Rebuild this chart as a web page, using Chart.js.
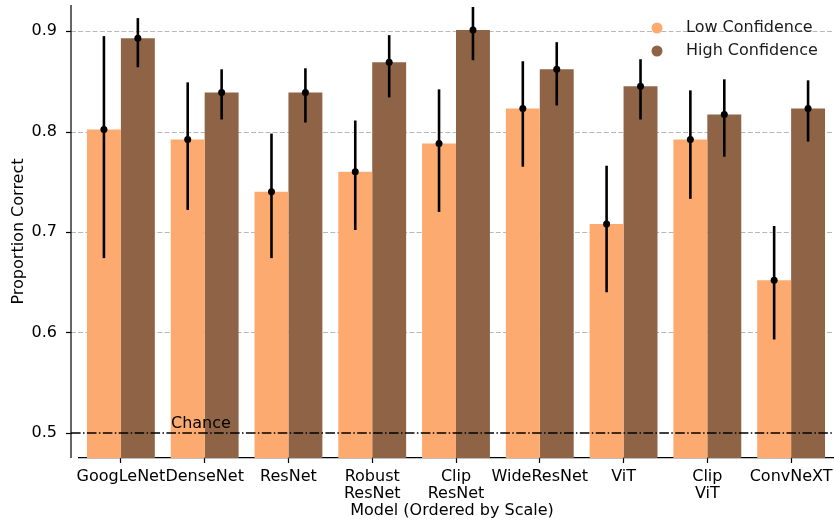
<!DOCTYPE html>
<html>
<head>
<meta charset="utf-8">
<title>Proportion Correct by Model</title>
<script src="https://cdn.jsdelivr.net/npm/chart.js@4"></script>
<style>
    html, body { margin: 0; padding: 0; background: #ffffff; }
    #chart-wrap { width: 834px; height: 525px; }
</style>
</head>
<body>
<div id="chart-wrap"><canvas id="confidence-chart" width="834" height="525"></canvas></div>
<script>
// Chart data
const models = [['GoogLeNet'], ['DenseNet'], ['ResNet'], ['Robust', 'ResNet'], ['Clip', 'ResNet'], ['WideResNet'], ['ViT'], ['Clip', 'ViT'], ['ConvNeXT']];
const lowConfidence = [0.802, 0.792, 0.740, 0.760, 0.788, 0.823, 0.708, 0.792, 0.652];
const lowLower = [0.674, 0.722, 0.674, 0.702, 0.720, 0.765, 0.640, 0.733, 0.593];
const lowUpper = [0.895, 0.849, 0.798, 0.811, 0.842, 0.870, 0.766, 0.841, 0.706];
const highConfidence = [0.893, 0.839, 0.839, 0.869, 0.901, 0.862, 0.845, 0.817, 0.823];
const highLower = [0.864, 0.812, 0.809, 0.834, 0.871, 0.826, 0.812, 0.775, 0.790];
const highUpper = [0.913, 0.862, 0.863, 0.896, 0.924, 0.889, 0.872, 0.852, 0.851];
const yTicks = [0.5, 0.6, 0.7, 0.8, 0.9];
const chanceLevel = 0.5;

const LOW_COLOR = '#fdaa71';
const HIGH_COLOR = '#8f6446';
const FONT = '"DejaVu Sans", sans-serif';
const FONT_SIZE = 16;
const SPINE_X = 71;

// Plugin: grid lines and left spine behind the bars
const backgroundPlugin = {
    id: 'background',
    beforeDatasetsDraw(chart) {
        const ctx = chart.ctx;
        const y = chart.scales.y;
        const area = chart.chartArea;
        ctx.save();
        ctx.strokeStyle = '#b8b8b8';
        ctx.lineWidth = 1;
        ctx.setLineDash([5, 2.2]);
        yTicks.forEach(v => {
            if (v === chanceLevel) return;
            const py = Math.round(y.getPixelForValue(v)) + 0.5;
            ctx.beginPath();
            ctx.moveTo(SPINE_X, py);
            ctx.lineTo(area.right + 1, py);
            ctx.stroke();
        });
        ctx.setLineDash([]);
        // Left spine and tick marks
        ctx.strokeStyle = '#000';
        ctx.lineWidth = 1.2;
        ctx.beginPath();
        ctx.moveTo(SPINE_X, area.top);
        ctx.lineTo(SPINE_X, area.bottom);
        ctx.stroke();
        yTicks.forEach(v => {
            const py = Math.round(y.getPixelForValue(v)) + 0.5;
            ctx.beginPath();
            ctx.moveTo(SPINE_X - 5, py);
            ctx.lineTo(SPINE_X, py);
            ctx.stroke();
        });
        ctx.restore();
    }
};

// Plugin: chance line, error bars, legend and axis titles on top
const overlayPlugin = {
    id: 'overlay',
    afterDatasetsDraw(chart) {
        const ctx = chart.ctx;
        const y = chart.scales.y;
        const area = chart.chartArea;
        ctx.save();

        // Chance line
        const cy = y.getPixelForValue(chanceLevel);
        ctx.strokeStyle = '#000';
        ctx.lineWidth = 1.5;
        ctx.setLineDash([9.6, 2.4, 1.5, 2.4]);
        ctx.beginPath();
        ctx.moveTo(SPINE_X, cy);
        ctx.lineTo(area.right + 1, cy);
        ctx.stroke();
        ctx.setLineDash([]);
        ctx.fillStyle = '#000';
        ctx.font = FONT_SIZE + 'px ' + FONT;
        ctx.textAlign = 'left';
        ctx.textBaseline = 'alphabetic';
        ctx.fillText('Chance', 171, cy - 5);

        // Error bars with point markers
        const bounds = [[lowLower, lowUpper, lowConfidence], [highLower, highUpper, highConfidence]];
        bounds.forEach((b, di) => {
            const meta = chart.getDatasetMeta(di);
            meta.data.forEach((bar, i) => {
                const x = bar.x;
                ctx.strokeStyle = '#000';
                ctx.lineWidth = 2.6;
                ctx.beginPath();
                ctx.moveTo(x, y.getPixelForValue(b[0][i]));
                ctx.lineTo(x, y.getPixelForValue(b[1][i]));
                ctx.stroke();
                ctx.fillStyle = '#000';
                ctx.beginPath();
                ctx.arc(x, y.getPixelForValue(b[2][i]), 3.5, 0, Math.PI * 2);
                ctx.fill();
            });
        });

        // Legend
        const legendItems = [['Low Confidence', LOW_COLOR], ['High Confidence', HIGH_COLOR]];
        legendItems.forEach((item, i) => {
            const ly = 28 + i * 23;
            ctx.fillStyle = item[1];
            ctx.beginPath();
            ctx.arc(657, ly, 5.5, 0, Math.PI * 2);
            ctx.fill();
            ctx.fillStyle = '#1a1a1a';
            ctx.font = FONT_SIZE + 'px ' + FONT;
            ctx.textAlign = 'left';
            ctx.textBaseline = 'middle';
            ctx.fillText(item[0], 686, ly);
        });

        // Axis titles
        ctx.fillStyle = '#000';
        ctx.font = FONT_SIZE + 'px ' + FONT;
        ctx.textAlign = 'center';
        ctx.textBaseline = 'middle';
        ctx.fillText('Model (Ordered by Scale)', 452, 511);
        ctx.translate(19, (area.top + area.bottom) / 2);
        ctx.rotate(-Math.PI / 2);
        ctx.fillText('Proportion Correct', 0, 0);
        ctx.restore();
    }
};

// Function to create the grouped bar chart
function createConfidenceChart() {
    const canvas = document.getElementById('confidence-chart');
    new Chart(canvas, {
        type: 'bar',
        data: {
            labels: models,
            datasets: [{
                label: 'Low Confidence',
                data: lowConfidence,
                backgroundColor: LOW_COLOR,
                borderWidth: 0,
                categoryPercentage: 0.81,
                barPercentage: 1.0
            }, {
                label: 'High Confidence',
                data: highConfidence,
                backgroundColor: HIGH_COLOR,
                borderWidth: 0,
                categoryPercentage: 0.81,
                barPercentage: 1.0
            }]
        },
        options: {
            responsive: false,
            animation: false,
            layout: { padding: { top: 5, right: 1, left: 0, bottom: 0 } },
            plugins: {
                legend: { display: false },
                tooltip: { enabled: false }
            },
            scales: {
                x: {
                    grid: {
                        display: true,
                        drawOnChartArea: false,
                        drawTicks: true,
                        tickLength: 5,
                        offset: false,
                        color: '#000',
                        tickWidth: 1.2
                    },
                    border: { display: true, color: '#000', width: 1.2 },
                    ticks: {
                        color: '#000',
                        font: { family: FONT, size: FONT_SIZE, lineHeight: 1.08 },
                        padding: 5,
                        maxRotation: 0,
                        autoSkip: false
                    },
                    afterFit(scale) {
                        scale.height = 67;
                        scale.paddingLeft = 0;
                        scale.paddingRight = 0;
                    }
                },
                y: {
                    min: 0.475,
                    max: 0.926,
                    grid: { display: false, drawTicks: false },
                    border: { display: false },
                    afterBuildTicks(scale) {
                        scale.ticks = yTicks.map(v => ({ value: v }));
                    },
                    ticks: {
                        color: '#000',
                        font: { family: FONT, size: FONT_SIZE },
                        padding: 22,
                        callback: v => v.toFixed(1)
                    },
                    afterFit(scale) {
                        scale.width = 79;
                        // tick padding should not push the plot area down
                        scale.paddingTop = 0;
                        scale.paddingBottom = 0;
                    }
                }
            }
        },
        plugins: [backgroundPlugin, overlayPlugin]
    });
}

createConfidenceChart();
</script>
</body>
</html>
